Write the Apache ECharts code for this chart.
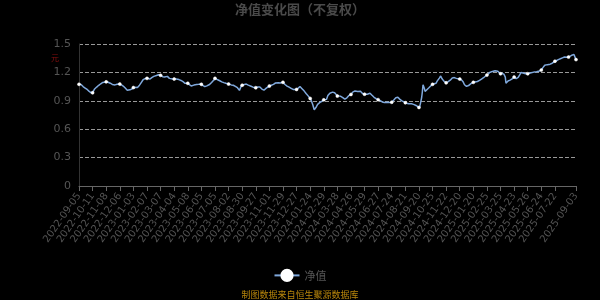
<!DOCTYPE html>
<html><head><meta charset="utf-8">
<script src="https://cdn.jsdelivr.net/npm/echarts@6/dist/echarts.min.js"></script>
<style>html,body{margin:0;padding:0;background:#000}#c{width:600px;height:300px}</style>
</head><body><div id="c"></div>
<script>
// NAV dates: weekdays minus exchange holidays, plus quarter-end days published on weekends
const startDate = '2022-09-05';
const endDate = '2025-09-03';
const holidays = ['2022-09-12','2022-10-03','2022-10-04','2022-10-05','2022-10-06','2022-10-07',
'2023-01-02','2023-01-23','2023-01-24','2023-01-25','2023-01-26','2023-01-27','2023-04-05',
'2023-05-01','2023-05-02','2023-05-03','2023-06-22','2023-06-23','2023-09-29','2023-10-02','2023-10-03','2023-10-04','2023-10-05','2023-10-06',
'2024-01-01','2024-02-09','2024-02-12','2024-02-13','2024-02-14','2024-02-15','2024-02-16','2024-04-04','2024-04-05',
'2024-05-01','2024-05-02','2024-05-03','2024-06-10','2024-09-16','2024-09-17','2024-10-01','2024-10-02','2024-10-03','2024-10-04','2024-10-07',
'2025-01-01','2025-01-28','2025-01-29','2025-01-30','2025-01-31','2025-02-03','2025-02-04','2025-04-04','2025-05-01','2025-05-02','2025-05-05','2025-06-02'];
const extraDates = ['2022-12-31','2023-09-30','2023-12-31','2024-03-31','2024-06-30'];

const navValues = [
1.074,1.078,1.080,1.072,1.065,1.056,1.050,1.046,1.040,1.035,1.030,1.026,1.020,1.012,1.006,1.000,0.994,0.990,0.984,0.980,
0.985,1.000,1.018,1.025,1.030,1.038,1.045,1.050,1.058,1.064,1.070,1.076,1.080,1.086,1.090,1.094,1.096,1.098,1.100,1.098,
1.100,1.102,1.098,1.095,1.092,1.090,1.086,1.082,1.078,1.073,1.070,1.067,1.065,1.068,1.072,1.070,1.074,1.078,1.080,1.078,
1.077,1.074,1.070,1.064,1.060,1.056,1.050,1.042,1.035,1.026,1.018,1.012,1.007,1.010,1.012,1.016,1.014,1.018,1.020,1.030,
1.040,1.044,1.046,1.042,1.038,1.040,1.040,1.048,1.056,1.065,1.074,1.086,1.098,1.110,1.120,1.127,1.130,1.134,1.136,1.135,
1.137,1.140,1.136,1.132,1.128,1.130,1.138,1.145,1.150,1.155,1.158,1.160,1.164,1.166,1.168,1.169,1.172,1.175,1.172,1.170,
1.169,1.165,1.160,1.155,1.150,1.148,1.152,1.156,1.160,1.162,1.158,1.150,1.142,1.137,1.134,1.136,1.133,1.130,1.132,1.131,
1.130,1.132,1.134,1.130,1.128,1.126,1.127,1.124,1.120,1.118,1.115,1.113,1.108,1.102,1.096,1.090,1.085,1.082,1.084,1.086,
1.085,1.080,1.074,1.068,1.062,1.056,1.058,1.060,1.062,1.066,1.067,1.070,1.068,1.072,1.075,1.073,1.074,1.078,1.080,1.077,
1.074,1.068,1.062,1.058,1.054,1.050,1.052,1.055,1.058,1.062,1.065,1.067,1.072,1.080,1.088,1.094,1.100,1.108,1.118,1.128,
1.137,1.134,1.130,1.126,1.122,1.120,1.116,1.112,1.108,1.104,1.100,1.098,1.096,1.092,1.090,1.088,1.085,1.084,1.080,1.078,
1.077,1.075,1.072,1.070,1.068,1.066,1.067,1.064,1.060,1.056,1.052,1.050,1.046,1.038,1.028,1.020,1.010,0.995,1.030,1.063,
1.065,1.066,1.070,1.072,1.074,1.076,1.077,1.074,1.070,1.066,1.062,1.058,1.056,1.054,1.050,1.047,1.044,1.042,1.040,1.039,
1.038,1.040,1.043,1.046,1.048,1.050,1.046,1.040,1.032,1.024,1.015,1.007,1.012,1.018,1.025,1.031,1.036,1.042,1.048,1.052,
1.056,1.058,1.062,1.065,1.068,1.070,1.074,1.078,1.083,1.088,1.092,1.095,1.093,1.090,1.087,1.085,1.088,1.090,1.092,1.094,
1.095,1.088,1.080,1.072,1.063,1.060,1.056,1.052,1.048,1.044,1.040,1.036,1.032,1.028,1.024,1.020,1.018,1.020,1.022,1.019,
1.020,1.026,1.032,1.040,1.046,1.050,1.044,1.036,1.028,1.020,1.013,1.005,0.996,0.988,0.978,0.970,0.962,0.952,0.944,0.934,
0.925,0.912,0.895,0.875,0.855,0.830,0.805,0.785,0.805,0.835,0.855,0.862,0.868,0.874,0.880,0.885,0.890,0.895,0.900,0.905,
0.910,0.914,0.918,0.916,0.915,0.935,0.955,0.970,0.976,0.980,0.984,0.988,0.990,0.992,0.990,0.988,0.985,0.978,0.970,0.960,
0.950,0.948,0.952,0.955,0.950,0.947,0.945,0.940,0.934,0.928,0.922,0.918,0.915,0.922,0.932,0.942,0.950,0.955,0.960,0.964,
0.967,0.975,0.985,0.994,1.002,1.007,1.004,1.000,0.997,0.995,0.998,1.002,1.005,1.007,1.000,0.992,0.984,0.977,0.970,0.968,
0.970,0.972,0.968,0.969,0.970,0.973,0.976,0.978,0.980,0.974,0.966,0.958,0.950,0.944,0.937,0.931,0.925,0.922,0.919,0.916,
0.912,0.910,0.906,0.902,0.897,0.892,0.888,0.885,0.883,0.882,0.884,0.886,0.887,0.885,0.882,0.880,0.881,0.883,0.884,0.886,
0.885,0.892,0.900,0.908,0.916,0.925,0.932,0.940,0.945,0.938,0.930,0.922,0.915,0.910,0.905,0.900,0.896,0.892,0.888,0.884,
0.880,0.878,0.875,0.872,0.870,0.868,0.866,0.864,0.866,0.868,0.867,0.866,0.862,0.860,0.856,0.853,0.850,0.846,0.840,0.835,
0.830,0.835,0.865,0.900,0.935,0.995,1.070,1.088,1.030,1.000,0.995,1.008,1.020,1.025,1.032,1.040,1.046,1.055,1.062,1.068,
1.074,1.078,1.075,1.072,1.074,1.085,1.098,1.110,1.120,1.127,1.140,1.152,1.162,1.148,1.132,1.120,1.112,1.105,1.098,1.094,
1.090,1.094,1.098,1.102,1.106,1.110,1.118,1.126,1.134,1.142,1.150,1.148,1.145,1.142,1.140,1.137,1.135,1.133,1.131,1.130,
1.130,1.128,1.124,1.118,1.113,1.100,1.085,1.070,1.060,1.056,1.052,1.050,1.055,1.061,1.068,1.074,1.079,1.084,1.088,1.092,
1.095,1.097,1.099,1.098,1.100,1.100,1.104,1.108,1.112,1.116,1.120,1.125,1.130,1.135,1.140,1.144,1.150,1.156,1.162,1.168,
1.172,1.178,1.185,1.192,1.200,1.203,1.206,1.208,1.210,1.212,1.214,1.216,1.218,1.220,1.219,1.218,1.212,1.204,1.196,1.190,
1.186,1.188,1.190,1.192,1.190,1.180,1.160,1.150,1.085,1.074,1.095,1.109,1.112,1.115,1.118,1.120,1.126,1.132,1.138,1.145,
1.151,1.146,1.140,1.135,1.130,1.138,1.148,1.160,1.172,1.185,1.198,1.207,1.200,1.194,1.190,1.186,1.184,1.186,1.188,1.186,
1.186,1.188,1.190,1.192,1.194,1.196,1.198,1.200,1.202,1.203,1.204,1.205,1.206,1.207,1.208,1.210,1.212,1.215,1.218,1.222,
1.225,1.236,1.248,1.260,1.268,1.275,1.280,1.285,1.284,1.282,1.283,1.285,1.286,1.287,1.288,1.292,1.297,1.302,1.307,1.312,
1.318,1.320,1.323,1.327,1.331,1.335,1.338,1.341,1.344,1.347,1.350,1.353,1.356,1.359,1.362,1.363,1.362,1.361,1.360,1.361,
1.362,1.366,1.370,1.374,1.378,1.383,1.386,1.388,1.390,1.382,1.370,1.335
];

const yTicks = [0, 0.3, 0.6, 0.9, 1.2, 1.5];
const seriesName = '净值';
const titleText = '净值变化图（不复权）';
const unitText = '元';
const sourceText = '制图数据来自恒生聚源数据库';

function pad(n){return n<10?'0'+n:''+n;}
const hol = new Set(holidays);
const extra = new Set(extraDates);
const dates = [];
(function(){
  const d = new Date(startDate+'T00:00:00Z');
  const e = new Date(endDate+'T00:00:00Z');
  while (d <= e) {
    const wd = d.getUTCDay();
    const s = d.getUTCFullYear()+'-'+pad(d.getUTCMonth()+1)+'-'+pad(d.getUTCDate());
    if ((wd !== 0 && wd !== 6 && !hol.has(s)) || extra.has(s)) dates.push(s);
    d.setUTCDate(d.getUTCDate()+1);
  }
})();

const chart = echarts.init(document.getElementById('c'), null, {renderer:'canvas'});
chart.setOption({
  backgroundColor: '#000',
  animation: false,
  title: {
    text: titleText, left: 'center', top: -2,
    textStyle: {color: '#4a4a4a', fontSize: 13, fontWeight: 'bold', fontFamily: 'Noto Sans CJK SC'}
  },
  legend: {
    data: [seriesName], bottom: 13, left: 'center',
    itemWidth: 25, itemHeight: 14,
    textStyle: {color: '#555', fontSize: 11, fontFamily: 'Noto Sans CJK SC'}
  },
  graphic: [
    {type: 'text', left: 51, top: 54, style: {text: unitText, fill: '#8b1010', fontSize: 8, fontFamily: 'Noto Sans CJK SC'}},
    {type: 'text', left: 'center', bottom: 1, style: {text: sourceText, fill: '#b8860b', fontSize: 9, fontFamily: 'Noto Sans CJK SC'}}
  ],
  grid: {left: 79, right: 24, top: 44, bottom: 114},
  xAxis: {
    type: 'category', data: dates, boundaryGap: false,
    axisLine: {lineStyle: {color: '#666'}},
    axisTick: {interval: 19, lineStyle: {color: '#666'}},
    axisLabel: {interval: 19, rotate: 55, color: '#555', fontSize: 10, showMaxLabel: true, fontFamily: 'DejaVu Sans'}
  },
  yAxis: {
    type: 'value', min: yTicks[0], max: yTicks[yTicks.length-1], interval: 0.3,
    axisLine: {show: true, lineStyle: {color: '#333'}},
    axisTick: {show: false},
    axisLabel: {color: '#555', fontSize: 11, fontFamily: 'DejaVu Sans'},
    splitLine: {lineStyle: {color: '#999', type: 'dashed'}}
  },
  series: [{
    name: seriesName, type: 'line', data: navValues,
    symbol: 'circle', symbolSize: 3, showSymbol: true,
    itemStyle: {color: '#fff', borderColor: '#fff', borderWidth: 0.5},
    lineStyle: {color: '#7fa8dc', width: 1.5}
  }]
});
</script></body></html>
